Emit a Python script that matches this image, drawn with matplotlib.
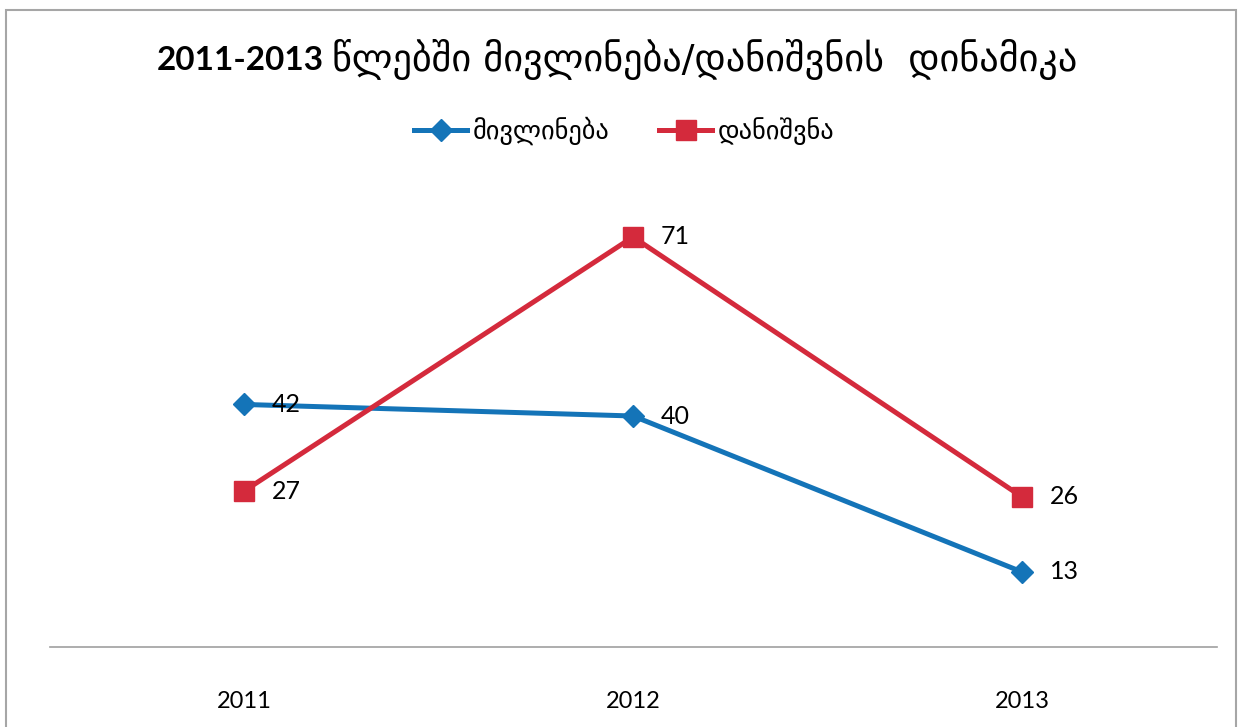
import matplotlib.pyplot as plt
from matplotlib.patches import Rectangle

# ── Data ──────────────────────────────────────────────────────────────────────
years = ["2011", "2012", "2013"]
appointed = [42, 40, 13]      # მივლინება
dismissed = [27, 71, 26]      # დანიშვნა
series_names = ["მივლინება", "დანიშვნა"]
title_num = "2011-2013"
title_geo = "წლებში მივლინება/დანიშვნის  დინამიკა"

BLUE = "#1474B8"
RED = "#D42A3C"
NUM_FONT = ["Lato", "DejaVu Sans"]
GEO_FONT = ["DejaVu Sans"]

fig = plt.figure(figsize=(12.38, 7.27), dpi=100)
ax = fig.add_axes([49.5 / 1238, 80 / 727, 1167 / 1238, 462 / 727])

x = range(len(years))
ax.plot(x, appointed, color=BLUE, lw=3.6, marker="D", ms=11,
        label=series_names[0], zorder=3)
ax.plot(x, dismissed, color=RED, lw=3.6, marker="s", ms=15,
        label=series_names[1], zorder=3)

for xi, v in zip(x, appointed):
    ax.annotate(str(v), (xi, v), xytext=(20, 0), textcoords="offset points",
                ha="left", va="center", fontsize=18, family=NUM_FONT, zorder=4)
for xi, v in zip(x, dismissed):
    ax.annotate(str(v), (xi, v), xytext=(20, 0), textcoords="offset points",
                ha="left", va="center", fontsize=18, family=NUM_FONT, zorder=4)

ax.set_xlim(-0.5, 2.5)
ax.set_ylim(0, 80)
ax.set_xticks(list(x))
ax.set_xticklabels(years, fontsize=17, family=NUM_FONT)
ax.tick_params(axis="x", length=0, pad=32)
ax.set_yticks([])
for side in ["top", "right", "left"]:
    ax.spines[side].set_visible(False)
ax.spines["bottom"].set_color("#A0A0A0")
ax.spines["bottom"].set_linewidth(1.2)

# title: bold years + regular Georgian text
t1 = fig.text(157 / 1238, 1 - 60 / 727, title_num, ha="left", va="center",
              fontsize=24, fontweight="bold", family=NUM_FONT)
ax.annotate(title_geo, xy=(1, 0.5), xycoords=t1, xytext=(6, 0),
            textcoords="offset points", ha="left", va="center",
            fontsize=27.5, family=GEO_FONT, annotation_clip=False)

fig.legend(loc="center", bbox_to_anchor=(624 / 1238, 1 - 131 / 727),
           ncol=2, frameon=False, prop={"family": GEO_FONT, "size": 19},
           handlelength=2.0, handletextpad=0.2, columnspacing=1.9)

# outer frame
fig.patches.append(Rectangle((6 / 1238, -0.05), 1230 / 1238, 1.05 - 10 / 727,
                             transform=fig.transFigure, fill=False,
                             edgecolor="#A6A6A6", lw=1.5))

plt.savefig("out.png", dpi=100)
